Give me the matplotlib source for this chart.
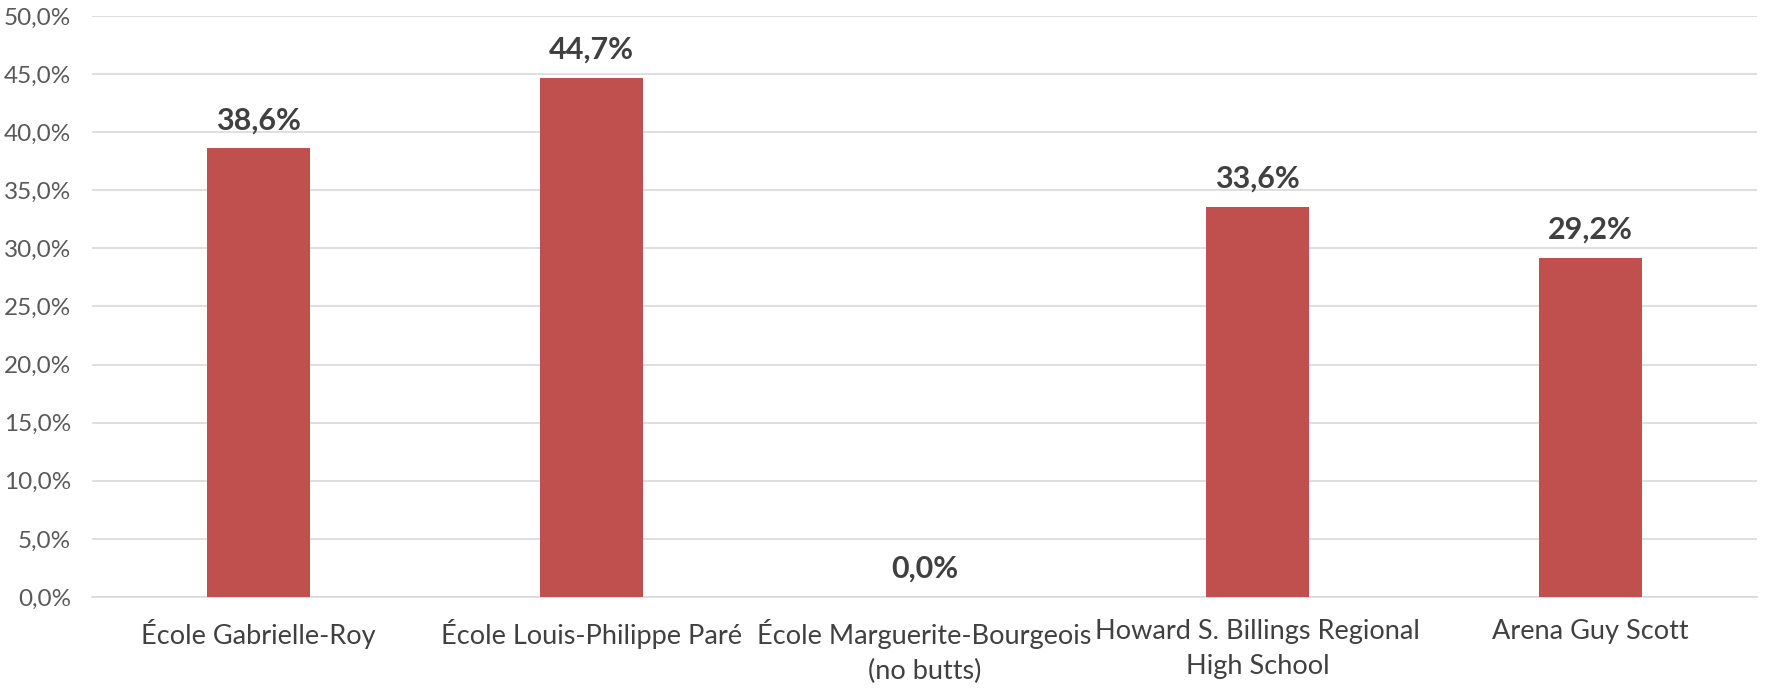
import numpy as np
import matplotlib.pyplot as plt
from matplotlib.ticker import FuncFormatter

# ── Data ──────────────────────────────────────────────
categories = [
    "École Gabrielle-Roy",
    "École Louis-Philippe Paré",
    "École Marguerite-Bourgeois\n(no butts)",
    "Howard S. Billings Regional\nHigh School",
    "Arena Guy Scott",
]
values = [38.6, 44.7, 0.0, 33.6, 29.2]

BAR = "#C0504D"
GRID = "#D9D9D9"
TICK = "#595959"
LABEL = "#404040"

plt.rcParams["font.family"] = ["Lato", "DejaVu Sans"]

fig = plt.figure(figsize=(17.66, 6.88), dpi=100, facecolor="white")
ax = fig.add_axes([0.0521, 0.1323, 0.9429, 0.8445])

x = np.arange(len(categories))
ax.bar(x, values, width=0.31, color=BAR, zorder=3)

ax.set_xlim(-0.5, len(categories) - 0.5)
ax.set_ylim(0, 50)
ax.set_yticks(np.arange(0, 50.1, 5))
ax.yaxis.set_major_formatter(FuncFormatter(lambda v, _: f"{v:.1f}%".replace(".", ",")))
ax.grid(axis="y", color=GRID, lw=1.2, zorder=0)
ax.set_axisbelow(True)

for s in ("top", "right", "left"):
    ax.spines[s].set_visible(False)
ax.spines["bottom"].set_color(GRID)
ax.spines["bottom"].set_linewidth(1.2)

ax.tick_params(axis="y", length=0, pad=15, labelsize=17.5, labelcolor=TICK)
ax.tick_params(axis="x", length=0, pad=16, labelsize=19.5, labelcolor=LABEL)
ax.set_xticks(x)
ax.set_xticklabels(categories, linespacing=1.5)

for xi, v in zip(x, values):
    ax.annotate(f"{v:.1f}%".replace(".", ","), (xi, v), xytext=(0, 10),
                textcoords="offset points", ha="center", va="bottom",
                fontsize=22, fontweight="bold", color=LABEL)

fig.savefig("out.png", dpi=100, facecolor="white")
